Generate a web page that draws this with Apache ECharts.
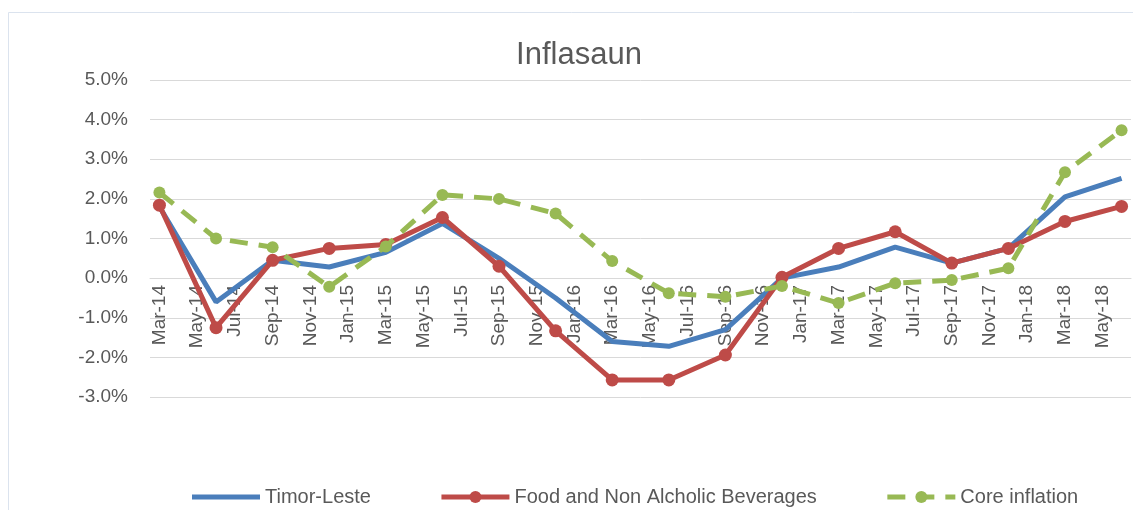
<!DOCTYPE html>
<html>
<head>
<meta charset="utf-8">
<style>
  html, body { margin: 0; padding: 0; background: #fff; }
  #main { width: 1133px; height: 510px; }
</style>
<script src="https://cdn.jsdelivr.net/npm/echarts@6/dist/echarts.min.js"></script>
</head>
<body>
<div id="main"></div>
<script>
// monthly axis, labels every other month
var months = ['Mar-14', 'Apr-14', 'May-14', 'Jun-14', 'Jul-14', 'Aug-14', 'Sep-14', 'Oct-14', 'Nov-14', 'Dec-14',
    'Jan-15', 'Feb-15', 'Mar-15', 'Apr-15', 'May-15', 'Jun-15', 'Jul-15', 'Aug-15', 'Sep-15', 'Oct-15', 'Nov-15', 'Dec-15',
    'Jan-16', 'Feb-16', 'Mar-16', 'Apr-16', 'May-16', 'Jun-16', 'Jul-16', 'Aug-16', 'Sep-16', 'Oct-16', 'Nov-16', 'Dec-16',
    'Jan-17', 'Feb-17', 'Mar-17', 'Apr-17', 'May-17', 'Jun-17', 'Jul-17', 'Aug-17', 'Sep-17', 'Oct-17', 'Nov-17', 'Dec-17',
    'Jan-18', 'Feb-18', 'Mar-18', 'Apr-18', 'May-18', 'Jun-18'];

// quarterly observations
var quarters = ['Mar-14', 'Jun-14', 'Sep-14', 'Dec-14', 'Mar-15', 'Jun-15', 'Sep-15', 'Dec-15', 'Mar-16',
    'Jun-16', 'Sep-16', 'Dec-16', 'Mar-17', 'Jun-17', 'Sep-17', 'Dec-17', 'Mar-18', 'Jun-18'];

var timorLeste = [1.8, -0.6, 0.45, 0.28, 0.65, 1.38, 0.5, -0.5, -1.6, -1.72, -1.3, 0.0, 0.28, 0.78, 0.38, 0.75, 2.05, 2.52];
var foodBev = [1.84, -1.25, 0.45, 0.75, 0.85, 1.53, 0.3, -1.33, -2.57, -2.57, -1.94, 0.02, 0.75, 1.17, 0.38, 0.75, 1.43, 1.81];
var coreInfl = [2.16, 1.0, 0.78, -0.22, 0.8, 2.1, 2.0, 1.63, 0.43, -0.38, -0.47, -0.2, -0.63, -0.13, -0.05, 0.25, 2.67, 3.73];

function pairs(vals) {
    return quarters.map(function (q, i) { return [q, vals[i]]; });
}

var txt = '#595959';
var font = 'Liberation Sans';

var myChart = echarts.init(document.getElementById('main'));
var option = {
    backgroundColor: '#fff',
    animation: false,
    graphic: [{
        type: 'rect',
        shape: { x: 8.5, y: 12.5, width: 1200, height: 600 },
        style: { fill: 'none', stroke: '#dbe3ee', lineWidth: 1 }
    }],
    title: {
        text: 'Inflasaun',
        left: 574,
        top: 35,
        textAlign: 'center',
        textStyle: { color: txt, fontSize: 31, fontWeight: 'normal', fontFamily: font }
    },
    legend: {
        left: 187,
        top: 482,
        itemWidth: 68,
        itemHeight: 15,
        itemGap: 68,
        lineStyle: { width: 5 },
        textStyle: { color: txt, fontSize: 20, fontFamily: font },
        data: [
            { name: 'Timor-Leste', icon: 'path://M0,0 L68,0 L68,5 L0,5 Z' },
            'Food and Non Alcholic Beverages',
            'Core inflation'
        ]
    },
    grid: {
        left: 150,
        right: 2,
        top: 80,
        bottom: 113
    },
    xAxis: {
        type: 'category',
        data: months,
        boundaryGap: true,
        offset: -119,
        axisLine: { onZero: false, lineStyle: { color: '#d9d9d9' } },
        axisTick: { show: false },
        axisLabel: {
            interval: 1,
            rotate: 90,
            margin: 7,
            color: txt,
            fontSize: 19,
            fontFamily: font
        },
        splitLine: { show: false }
    },
    yAxis: {
        type: 'value',
        min: -3,
        max: 5,
        interval: 1,
        axisLine: { show: false },
        axisTick: { show: false },
        axisLabel: {
            margin: 22,
            color: txt,
            fontSize: 19,
            fontFamily: font,
            formatter: function (v) { return v.toFixed(1) + '%'; }
        },
        splitLine: { lineStyle: { color: '#d9d9d9', width: 1 } }
    },
    series: [
        {
            name: 'Timor-Leste',
            type: 'line',
            symbol: 'none',
            data: pairs(timorLeste),
            lineStyle: { color: '#4a7ebb', width: 5 },
            itemStyle: { color: '#4a7ebb' },
            z: 2
        },
        {
            name: 'Food and Non Alcholic Beverages',
            type: 'line',
            symbol: 'circle',
            symbolSize: 13,
            showAllSymbol: true,
            data: pairs(foodBev),
            lineStyle: { color: '#be4b48', width: 5 },
            itemStyle: { color: '#be4b48' },
            z: 3
        },
        {
            name: 'Core inflation',
            type: 'line',
            symbol: 'circle',
            symbolSize: 12,
            showAllSymbol: true,
            data: pairs(coreInfl),
            lineStyle: { color: '#98b954', width: 5, type: [18, 11] },
            itemStyle: { color: '#98b954' },
            z: 4
        }
    ]
};
myChart.setOption(option);
</script>
</body>
</html>
